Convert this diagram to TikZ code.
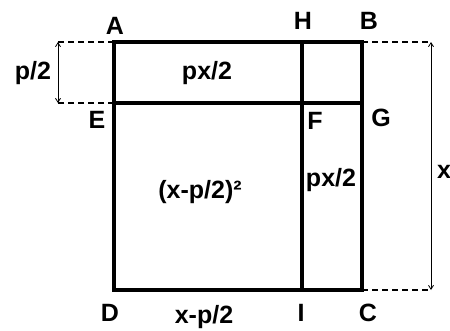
\documentclass[tikz,border=0pt]{standalone}
\usepackage{fontspec}
\setmainfont{Liberation Sans}
\usetikzlibrary{arrows.meta}
\tikzset{
    side/.style={line width=4.5pt, line cap=rect},
    guide/.style={line width=1.2pt, dash pattern=on 6pt off 4pt},
    dimarrow/.style={{Straight Barb[length=4pt,width=5pt]}-{Straight Barb[length=4pt,width=5pt]}, line width=0.8pt},
    lbl/.style={font=\bfseries\fontsize{25}{25}\selectfont, inner sep=0pt},
}

\begin{document}
\begin{tikzpicture}[x=1pt, y=-1pt]
                \useasboundingbox (0,0) rectangle (450,330);
                
                % Vertici del quadrato
                \coordinate (A) at (114,42);
                \coordinate (B) at (362,42);
                \coordinate (C) at (362,290);
                \coordinate (D) at (114,290);
                \coordinate (E) at (114,103);
                \coordinate (G) at (362,103);
                \coordinate (H) at (302,42);
                \coordinate (I) at (302,290);
                
                % Estremi delle quote
                \coordinate (pt) at (58,42);
                \coordinate (pb) at (58,103);
                \coordinate (xt) at (431,42);
                \coordinate (xb) at (431,290);
                
                % Quote tratteggiate
                \draw[guide] (A) -- (pt);
                \draw[guide] (E) -- (pb);
                \draw[guide] (B) -- (xt);
                \draw[guide] (C) -- (xb);
                \draw[dimarrow] (pt) -- (pb);
                \draw[dimarrow] (xt) -- (xb);
                
                % Quadrato e divisioni
                \draw[side] (A) -- (B) -- (C) -- (D) -- cycle;
                \draw[side] (E) -- (G);
                \draw[side] (H) -- (I);
                
                % Lettere dei vertici
                \node[lbl] (lA) at (115,26) {A};
                \node[lbl] (lH) at (303,21) {H};
                \node[lbl] (lB) at (369,21) {B};
                \node[lbl] (lE) at (97,120) {E};
                \node[lbl] (lF) at (315,121) {F};
                \node[lbl] (lG) at (381,118) {G};
                \node[lbl] (lD) at (110,313) {D};
                \node[lbl] (lI) at (301,313) {I};
                \node[lbl] (lC) at (368,313) {C};
                
                % Aree e misure
                \node[lbl] (pmez) at (33,73) {p/2};
                \node[lbl] (atop) at (207,73) {px/2};
                \node[lbl] (aquad) at (200,192) {(x-p/2)²};
                \node[lbl] (aright) at (331,180) {px/2};
                \node[lbl] (xlato) at (444,172) {x};
                \node[lbl] (xbase) at (204,317) {x-p/2};
            \end{tikzpicture}
\end{document}
